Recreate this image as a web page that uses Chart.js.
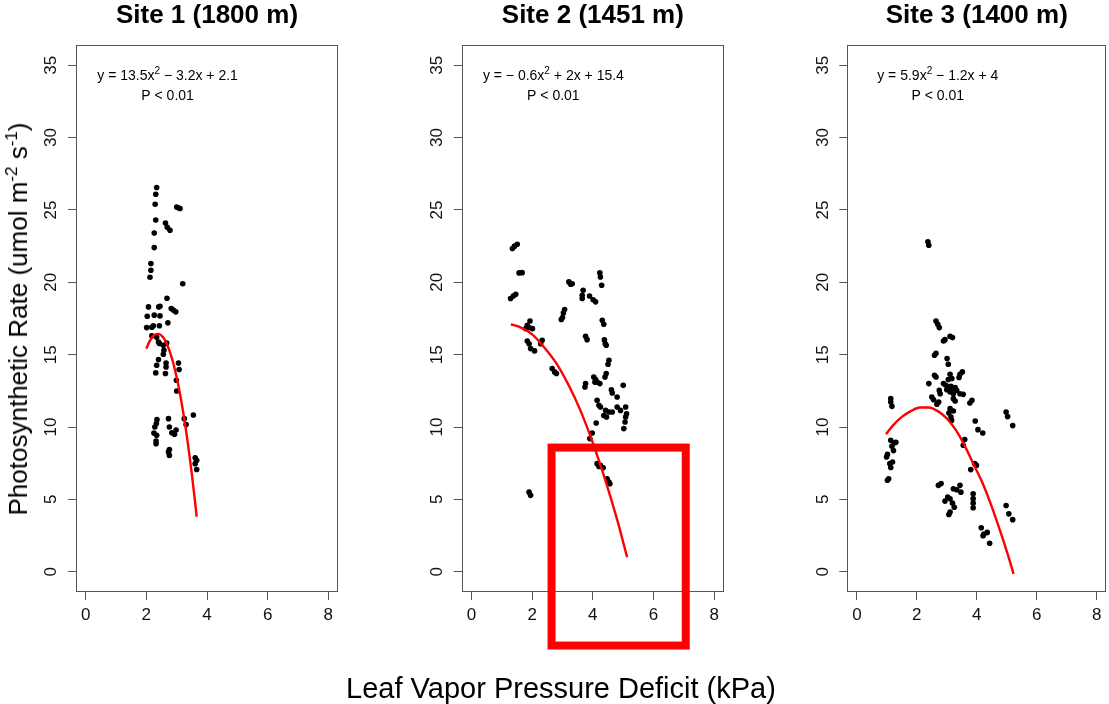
<!DOCTYPE html>
<html>
<head>
<meta charset="utf-8">
<script src="https://cdn.jsdelivr.net/npm/chart.js@4.4.1/dist/chart.umd.min.js"></script>
<style>
  body { margin: 0; background: #fff; }
  #wrap { position: relative; width: 1109px; height: 704px; overflow: hidden; font-family: "Liberation Sans", Arial, sans-serif; }
  #wrap canvas { position: absolute; top: 0; }
  #ylab { position: absolute; left: 18px; top: 319px; transform: translate(-50%, -50%) rotate(-90deg); font-size: 26px; white-space: nowrap; color: #000; line-height: 1; }
  #ylab sup { font-size: 17px; vertical-align: 0; position: relative; top: -0.6em; }
  #xlab { position: absolute; left: 561px; top: 688px; transform: translate(-50%, -50%); font-size: 29px; white-space: nowrap; color: #000; line-height: 1; }
</style>
</head>
<body>
<div id="wrap">
  <canvas id="c0" width="385" height="704" style="left:0px"></canvas>
  <canvas id="c1" width="385" height="704" style="left:385px"></canvas>
  <canvas id="c2" width="339" height="704" style="left:770px"></canvas>
  <div id="ylab">Photosynthetic Rate (umol m<sup>-2</sup> s<sup>-1</sup>)</div>
  <div id="xlab">Leaf Vapor Pressure Deficit (kPa)</div>
</div>
<script>
// axis ticks shared by all three sites
const xTicks = [0, 2, 4, 6, 8];
const yTicks = [0, 5, 10, 15, 20, 25, 30, 35];

const siteTitles = ['Site 1 (1800 m)', 'Site 2 (1451 m)', 'Site 3 (1400 m)'];
// fitted equations, split where the squared term sits
const eqHead = ['y = 13.5x', 'y = \u2212 0.6x', 'y = 5.9x'];
const eqTail = [' \u2212 3.2x + 2.1', ' + 2x + 15.4', ' \u2212 1.2x + 4'];
const pLabel = 'P < 0.01';

// [VPD (kPa), photosynthetic rate]
const site1Points = [
  [2.34,26.55],[2.31,26.09],[2.29,25.4],[3.0,25.2],[3.05,25.15],[3.11,25.1],[2.31,24.3],[2.63,24.1],[2.69,23.8],[2.78,23.6],
  [2.26,23.4],[2.26,22.4],[2.15,21.3],[2.15,20.83],[2.12,20.35],[3.2,19.9],[2.68,18.9],[2.07,18.3],[2.41,18.3],[2.45,18.35],
  [2.82,18.19],[2.89,18.08],[2.97,17.96],[2.03,17.66],[2.26,17.73],[2.45,17.68],[2.71,17.2],[2.01,16.87],[2.18,16.9],[2.23,17.0],
  [2.43,17.0],[2.18,16.3],[2.34,16.2],[2.4,15.88],[2.43,15.78],[2.56,15.65],[2.58,15.31],[2.56,15.03],[2.67,15.8],[2.4,14.66],
  [2.34,14.27],[2.31,13.74],[2.65,14.43],[2.65,14.15],[2.63,13.7],[3.06,14.43],[3.08,13.97],[2.99,13.23],[3.0,12.49],[2.35,10.51],
  [2.33,10.24],[2.28,10.0],[2.25,9.59],[2.34,9.43],[2.32,9.03],[2.32,8.84],[2.73,10.58],[2.76,10.0],[2.84,9.6],[2.98,9.8],
  [2.93,9.5],[2.76,8.44],[2.73,8.28],[2.76,8.04],[3.25,10.58],[3.31,10.17],[3.55,10.83],[3.61,7.88],[3.66,7.7],[3.61,7.47],[3.66,7.07]
];
const site2Points = [
  [1.35,22.34],[1.42,22.5],[1.51,22.63],[1.57,20.65],[1.67,20.67],[1.29,18.88],[1.38,19.06],[1.46,19.18],[3.21,20.03],[3.27,19.87],
  [3.32,19.9],[4.23,20.65],[4.25,20.37],[4.29,19.8],[3.68,19.45],[3.65,19.11],[3.65,18.88],[3.89,19.06],[4.01,18.8],[4.09,18.65],
  [3.07,18.12],[3.03,17.88],[3.0,17.57],[2.96,17.43],[1.93,17.33],[1.84,17.03],[1.9,16.87],[2.01,16.8],[1.79,16.8],[1.84,15.95],
  [1.9,15.76],[1.95,15.42],[2.08,15.26],[2.28,15.76],[2.33,16.0],[4.31,17.38],[4.36,17.1],[3.76,16.27],[3.81,16.04],[4.38,16.02],
  [4.41,15.76],[4.44,15.65],[4.53,14.61],[4.5,14.34],[2.66,14.04],[2.74,13.81],[2.8,13.7],[4.44,13.7],[4.4,13.46],[4.03,13.46],
  [4.09,13.28],[4.14,13.1],[4.23,13.0],[4.07,13.1],[3.76,13.0],[3.74,12.77],[4.61,12.58],[4.64,12.35],[5.0,12.88],[4.8,12.08],
  [4.14,11.85],[4.2,11.5],[4.25,11.38],[4.42,11.15],[4.53,11.04],[4.64,11.04],[4.36,10.8],[4.45,10.69],[4.8,11.38],[4.91,11.15],
  [5.08,11.38],[5.11,10.92],[5.08,10.69],[5.06,10.35],[5.02,9.89],[4.11,10.28],[3.98,9.59],[3.9,9.2],[4.14,7.47],[4.25,7.35],
  [4.34,7.19],[4.2,7.28],[4.47,6.43],[4.53,6.2],[4.56,6.08],[1.9,5.5],[1.95,5.28]
];
const site3Points = [
  [2.37,22.8],[2.4,22.56],[2.64,17.33],[2.7,17.1],[2.75,16.87],[2.89,15.95],[2.94,16.04],[3.11,16.27],[3.19,16.18],[2.59,14.96],
  [2.64,15.1],[3.01,14.73],[3.05,14.34],[2.59,13.58],[2.64,13.46],[3.11,13.65],[3.17,13.35],[3.05,13.28],[3.44,13.65],[3.52,13.81],
  [3.41,13.42],[2.4,13.0],[2.89,13.0],[2.97,12.88],[3.03,12.77],[3.14,12.81],[3.19,12.65],[3.28,12.72],[3.33,12.53],[3.22,12.3],
  [3.11,12.42],[3.0,12.58],[2.75,12.53],[2.78,12.3],[3.44,12.3],[3.55,12.26],[2.5,12.08],[2.56,11.89],[3.22,11.96],[3.28,11.8],
  [2.73,11.73],[2.67,11.57],[3.77,11.66],[3.84,11.85],[3.11,11.27],[3.22,11.11],[3.07,10.97],[3.14,10.69],[3.16,10.46],[1.13,11.96],
  [1.13,11.73],[1.17,11.43],[4.98,11.04],[5.03,10.72],[5.2,10.1],[3.95,10.42],[4.04,9.82],[4.2,9.59],[1.13,9.08],[1.24,8.9],
  [1.3,8.94],[1.17,8.67],[1.22,8.37],[1.02,8.11],[0.99,7.93],[1.1,7.47],[1.19,7.58],[1.13,7.2],[1.06,6.43],[1.02,6.32],
  [3.6,9.13],[3.55,8.74],[3.93,7.47],[3.99,7.35],[3.8,7.06],[2.72,5.97],[2.81,6.09],[3.22,5.74],[3.33,5.67],[3.44,5.97],
  [3.47,5.5],[3.03,5.16],[2.94,4.88],[3.11,5.04],[3.19,4.74],[3.25,4.46],[3.11,4.12],[3.07,3.96],[3.88,5.39],[3.88,5.05],
  [3.88,4.74],[3.88,4.42],[4.98,4.58],[5.07,4.0],[5.2,3.6],[4.15,3.04],[4.24,2.6],[4.35,2.72],[4.43,1.97],[4.21,2.49]
];

// fitted curves (red lines)
const site1Fit = [
  [2.0,15.41],[2.1,15.9],[2.2,16.23],[2.3,16.41],[2.4,16.44],[2.5,16.32],[2.6,16.05],[2.7,15.62],[2.8,15.04],
  [2.9,14.32],[3.0,13.43],[3.1,12.4],[3.2,11.21],[3.3,9.88],[3.4,8.39],[3.5,6.75],[3.6,4.95],[3.66,3.8]
];
const site2Fit = [
  [1.3,17.1],[1.6,16.9],[2.0,16.4],[2.4,15.5],[2.8,14.4],[3.2,12.9],[3.6,11.1],[4.0,8.9],[4.4,6.4],[4.8,3.6],[5.13,1.0]
];
const site3Fit = [
  [0.97,9.5],[1.2,10.1],[1.5,10.7],[1.8,11.1],[2.1,11.35],[2.4,11.35],[2.7,11.1],[3.0,10.6],[3.3,9.8],
  [3.6,8.7],[3.9,7.4],[4.2,6.1],[4.5,4.5],[4.8,2.7],[5.05,1.1],[5.23,-0.15]
];

// highlighted region on site 2 (kPa / rate units)
const highlightX = [2.64, 7.06];
const highlightY = [-5.1, 8.58];

const FONT = '"Liberation Sans", Arial, sans-serif';
const axisGrey = '#555';

const panels = [
  { id: 'c0', axisW: 76, padR: 47, points: site1Points, fit: site1Fit },
  { id: 'c1', axisW: 76.7, padR: 46, points: site2Points, fit: site2Fit, highlight: true },
  { id: 'c2', axisW: 77.3, padR: 0.5, points: site3Points, fit: site3Fit }
];

function toXY(arr) {
  return arr.map(([x, y]) => ({ x: x, y: y }));
}

function makePanel(i) {
  const p = panels[i];

  // box, title, equation text and the highlight frame
  const panelText = {
    id: 'panelText' + i,
    afterDraw(chart) {
      const ctx = chart.ctx;
      const a = chart.chartArea;
      const xs = chart.scales.x, ys = chart.scales.y;
      ctx.save();
      ctx.strokeStyle = axisGrey;
      ctx.lineWidth = 1;
      ctx.strokeRect(Math.round(a.left) + 0.5, Math.round(a.top) + 0.5,
        Math.round(a.right - a.left) - 1, Math.round(a.bottom - a.top) - 1);

      ctx.fillStyle = '#000';
      ctx.textBaseline = 'alphabetic';
      ctx.textAlign = 'center';
      ctx.font = 'bold 26px ' + FONT;
      ctx.fillText(siteTitles[i], (a.left + a.right) / 2, 23);

      // equation with the superscript 2
      const cx = xs.getPixelForValue(2.7);
      ctx.font = '14px ' + FONT;
      const w1 = ctx.measureText(eqHead[i]).width;
      const w3 = ctx.measureText(eqTail[i]).width;
      ctx.font = '10px ' + FONT;
      const w2 = ctx.measureText('2').width;
      let sx = cx - (w1 + w2 + w3) / 2;
      const by = ys.getPixelForValue(34);
      ctx.textAlign = 'left';
      ctx.font = '14px ' + FONT;
      ctx.fillText(eqHead[i], sx, by);
      ctx.font = '10px ' + FONT;
      ctx.fillText('2', sx + w1, by - 6);
      ctx.font = '14px ' + FONT;
      ctx.fillText(eqTail[i], sx + w1 + w2, by);
      ctx.textAlign = 'center';
      ctx.fillText(pLabel, cx, ys.getPixelForValue(32.6));

      if (p.highlight) {
        const x0 = xs.getPixelForValue(highlightX[0]);
        const x1 = xs.getPixelForValue(highlightX[1]);
        const y0 = ys.getPixelForValue(highlightY[1]);
        const y1 = ys.getPixelForValue(highlightY[0]);
        ctx.strokeStyle = '#ff0000';
        ctx.lineWidth = 8;
        ctx.strokeRect(x0, y0, x1 - x0, y1 - y0);
      }
      ctx.restore();
    }
  };

  return new Chart(document.getElementById(p.id), {
    type: 'scatter',
    data: {
      datasets: [{
        data: toXY(p.fit),
        showLine: true,
        borderColor: '#ff0000',
        borderWidth: 2.4,
        pointRadius: 0,
        cubicInterpolationMode: 'monotone',
        fill: false
      }, {
        data: toXY(p.points),
        pointRadius: 2.8,
        pointHoverRadius: 2.8,
        backgroundColor: '#000',
        borderColor: '#000',
        borderWidth: 0,
        showLine: false
      }]
    },
    options: {
      responsive: false,
      animation: false,
      events: [],
      layout: { padding: { left: 0, right: p.padR, top: 45, bottom: 0 } },
      plugins: { legend: { display: false }, tooltip: { enabled: false } },
      scales: {
        x: {
          type: 'linear',
          min: -0.32,
          max: 8.32,
          afterBuildTicks: s => { s.ticks = xTicks.map(v => ({ value: v })); },
          afterFit: s => { s.height = 112; },
          grid: { drawOnChartArea: false, drawTicks: true, tickLength: 8, color: axisGrey },
          border: { display: false },
          ticks: { color: '#111', padding: 5, font: { family: FONT, size: 17 } }
        },
        y: {
          type: 'linear',
          min: -1.4,
          max: 36.4,
          afterBuildTicks: s => { s.ticks = yTicks.map(v => ({ value: v })); },
          afterFit: s => { s.width = p.axisW; },
          grid: { drawOnChartArea: false, drawTicks: true, tickLength: 8, color: axisGrey },
          border: { display: false },
          ticks: { color: '#111', padding: 7, minRotation: 90, maxRotation: 90, crossAlign: 'center', font: { family: FONT, size: 17 } }
        }
      }
    },
    plugins: [panelText]
  });
}

panels.forEach((p, i) => makePanel(i));
</script>
</body>
</html>
